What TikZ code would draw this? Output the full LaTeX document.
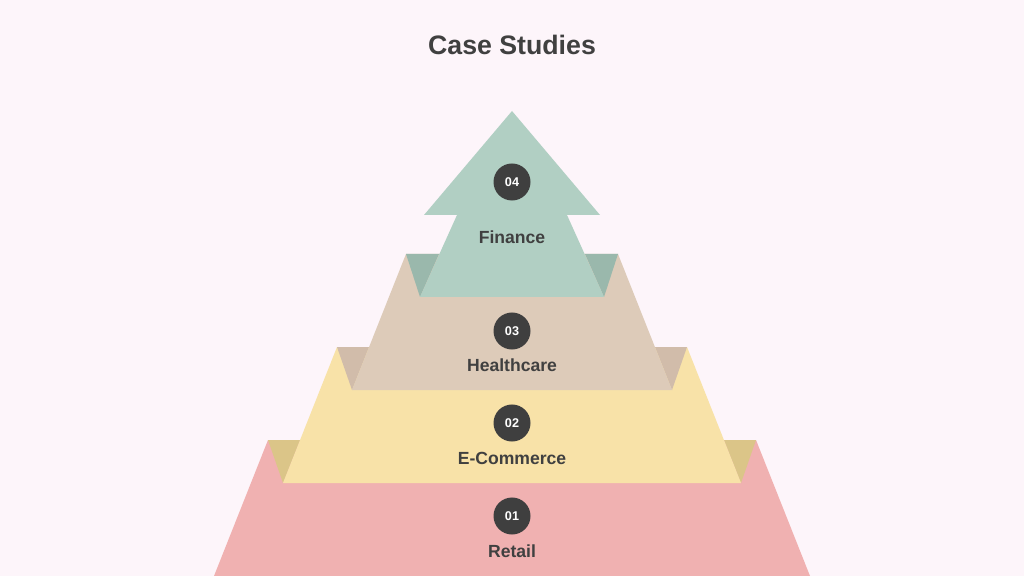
\documentclass[tikz,border=0pt]{standalone}
\usepackage{fontspec}
\setmainfont{Liberation Sans}
\usetikzlibrary{positioning}
\definecolor{bgpink}{HTML}{FDF5FA}
\definecolor{textgrey}{HTML}{404040}
\definecolor{dotgrey}{HTML}{3F3F3F}
\definecolor{retailpink}{HTML}{F0B1B1}
\definecolor{commyellow}{HTML}{F8E2A8}
\definecolor{commshade}{HTML}{DBC588}
\definecolor{healthtan}{HTML}{DDCBB9}
\definecolor{healthshade}{HTML}{D1BCAA}
\definecolor{fingreen}{HTML}{B1CFC3}
\definecolor{finshade}{HTML}{9AB8AC}

\begin{document}
\begin{tikzpicture}[
          x = 0.025cm, y = -0.025cm,
          badge/.style = {shape = circle, fill = dotgrey, text = white, minimum size = 0.925cm,
                          inner sep = 0, font = \fontsize{9}{10}\selectfont\bfseries},
          layertext/.style = {text = textgrey, inner sep = 0, font = \fontsize{12.5}{14}\selectfont\bfseries}
        ]
          \tikzstyle {heading} = [text = textgrey, font = \fontsize{19}{22}\selectfont\bfseries]
          % canvas
          \fill [bgpink] (0,0) rectangle (1024,576);
          \useasboundingbox (0,0) rectangle (1024,576);
          % layers, bottom to top
          \fill [retailpink] (214,576) -- (268,440) -- (756,440) -- (810,576) -- cycle;
          \fill [commshade] (268,440) -- (300,440) -- (283,483) -- cycle;
          \fill [commshade] (756,440) -- (724,440) -- (741,483) -- cycle;
          \fill [commyellow] (283,483) -- (337,347) -- (687,347) -- (741,483) -- cycle;
          \fill [healthshade] (337,347) -- (369,347) -- (352,390) -- cycle;
          \fill [healthshade] (687,347) -- (655,347) -- (672,390) -- cycle;
          \fill [healthtan] (352,390) -- (406,254) -- (618,254) -- (672,390) -- cycle;
          \fill [finshade] (406,254) -- (439,254) -- (420,297) -- cycle;
          \fill [finshade] (618,254) -- (585,254) -- (604,297) -- cycle;
          \fill [fingreen] (420,297) -- (457,215) -- (424,215) -- (512,111)
                           -- (600,215) -- (567,215) -- (604,297) -- cycle;
          % place nodes
          \path node (title) [heading] at (512,45) {Case Studies};
          \foreach \i/\y/\ly/\txt in {1/516/551/Retail, 2/423/458/E-Commerce,
                                      3/331/365/Healthcare, 4/182/237/Finance}
            { \path node (num\i) [badge] at (512,\y) {0\i};
              \path node (lab\i) [layertext] at (512,\ly) {\txt}; } ;
        \end{tikzpicture}
\end{document}
